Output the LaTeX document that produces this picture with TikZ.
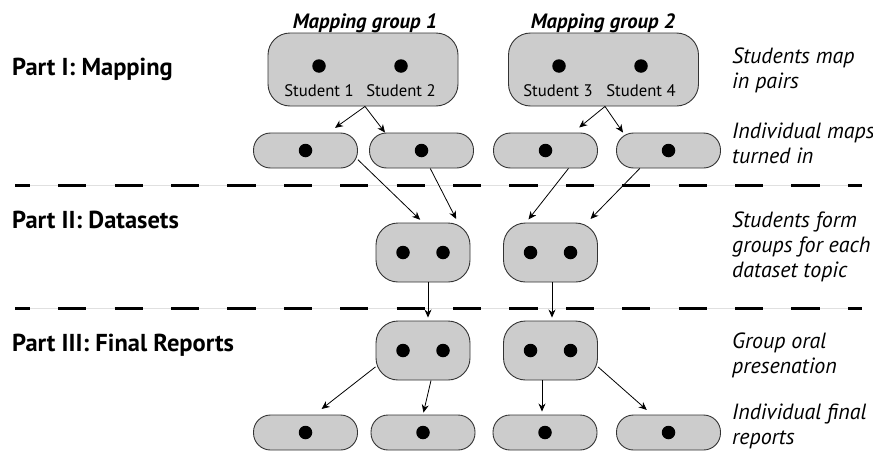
\documentclass[tikz,border=0pt]{standalone}
\usepackage{fontspec}
\setmainfont{PT Sans}
\usetikzlibrary{arrows.meta}

\begin{document}
\begin{tikzpicture}[x=1pt, y=-1pt,
    grp/.style={draw=black!80, fill=black!20, line width=0.9pt, rounded corners=22pt, minimum width=190pt, minimum height=73pt, inner sep=0pt},
    pair/.style={grp, minimum width=94pt, minimum height=59pt},
    single/.style={grp, rounded corners=17pt, minimum width=104pt, minimum height=35pt},
    dot/.style={circle, fill=black, minimum size=13.5pt, inner sep=0pt},
    arr/.style={-{Stealth[length=8pt,width=7pt]}, line width=0.8pt},
    part/.style={anchor=base west, inner sep=0pt, font=\fontsize{24.5}{28}\selectfont\bfseries},
    note/.style={anchor=base west, inner sep=0pt, align=left, font=\fontsize{22}{25}\selectfont\itshape},
    stud/.style={anchor=base, inner sep=0pt, font=\fontsize{16.7}{19}\selectfont},
    title/.style={anchor=base, inner sep=0pt, font=\fontsize{20.7}{23}\selectfont\bfseries\itshape}]
    \useasboundingbox (0,0) rectangle (873,450);

    % separators
    \foreach \y in {185,308} {
        \draw[black!12, line width=1pt] (15,\y) -- (862,\y);
        \draw[line width=3pt, dash pattern=on 28.2pt off 28.2pt, dash phase=13.2pt] (15,\y) -- (862,\y);
    }

    % left labels
    \node[part] (p1) at (12,75) {Part I: Mapping};
    \node[part] (p2) at (12,228) {Part II: Datasets};
    \node[part] (p3) at (12,351) {Part III: Final Reports};

    % mapping groups
    \node[title] (t1) at (365,28) {Mapping group 1};
    \node[title] (t2) at (603,28) {Mapping group 2};
    \node[grp] (g1) at (363,69.5) {};
    \node[grp] (g2) at (603.5,69.5) {};
    \node[dot] (s1) at (319,66) {};
    \node[dot] (s2) at (401,66) {};
    \node[dot] (s3) at (559,66) {};
    \node[dot] (s4) at (641,66) {};
    \node[stud] (l1) at (319,96) {Student 1};
    \node[stud] (l2) at (401,96) {Student 2};
    \node[stud] (l3) at (558,96) {Student 3};
    \node[stud] (l4) at (641,96) {Student 4};

    % individual maps
    \node[single] (m1) at (305.5,150.5) {};
    \node[single] (m2) at (421.5,150.5) {};
    \node[single] (m3) at (545.5,150.5) {};
    \node[single] (m4) at (668.5,150.5) {};
    \foreach \n in {m1,m2,m3,m4} \node[dot] at (\n) {};

    % dataset groups and final report groups
    \node[pair] (d1) at (423,252.5) {};
    \node[pair] (d2) at (550.5,252.5) {};
    \node[pair] (f1) at (423,350.5) {};
    \node[pair] (f2) at (550.5,350.5) {};
    \foreach \n in {d1,d2,f1,f2} {
        \node[dot] at ([xshift=-20pt]\n.center) {};
        \node[dot] at ([xshift=20pt]\n.center) {};
    }

    % individual final reports
    \node[single] (b1) at (305.5,432.5) {};
    \node[single] (b2) at (423,432.5) {};
    \node[single] (b3) at (545,432.5) {};
    \node[single] (b4) at (668.5,432.5) {};
    \foreach \n in {b1,b2,b3,b4} \node[dot] at (\n) {};

    % right notes (placed at the baseline of their last line)
    \node[note] (n1) at (732,88) {Students map\\in pairs};
    \node[note] (n2) at (732,163) {Individual maps\\turned in};
    \node[note] (n3) at (732,277) {Students form\\groups for each\\dataset topic};
    \node[note] (n4) at (732,373) {Group oral\\presenation};
    \node[note] (n5) at (732,444) {Individual final\\reports};

    % arrows
    \draw[arr, shorten >=8pt] ([xshift=2pt]g1.south) -- ([xshift=23pt]m1.north);
    \draw[arr] ([xshift=2pt]g1.south) -- ([xshift=-36.5pt]m2.north);
    \draw[arr, shorten >=8pt] ([xshift=1.5pt]g2.south) -- ([xshift=27.5pt]m3.north);
    \draw[arr] ([xshift=1.5pt]g2.south) -- ([xshift=-45.5pt]m4.north);
    \draw[arr, shorten >=4pt] (m1.-10) -- (d1.north);
    \draw[arr, shorten >=4pt] (m2.-64) -- ([xshift=35pt]d1.north);
    \draw[arr, shorten >=4pt] (m3.-38) -- ([xshift=-24.5pt]d2.north);
    \draw[arr, shorten >=5pt] (m4.-148) -- ([xshift=36.5pt]d2.north);
    \draw[arr, shorten >=3pt] ([xshift=5pt]d1.south) -- ([xshift=5pt]f1.north);
    \draw[arr, shorten >=3pt] ([xshift=1.5pt]d2.south) -- ([xshift=1.5pt]f2.north);
    \draw[arr, shorten >=9pt] (f1.-161) -- ([xshift=9pt]b1.north);
    \draw[arr, shorten >=2pt] ([xshift=8pt]f1.south) -- (b2.north);
    \draw[arr, shorten >=3pt] ([xshift=-8.5pt]f2.south) -- ([xshift=-8.5pt]f2.south |- b3.north);
    \draw[arr, shorten >=7pt] (f2.-19) -- ([xshift=-16.5pt]b4.north);
\end{tikzpicture}
\end{document}
